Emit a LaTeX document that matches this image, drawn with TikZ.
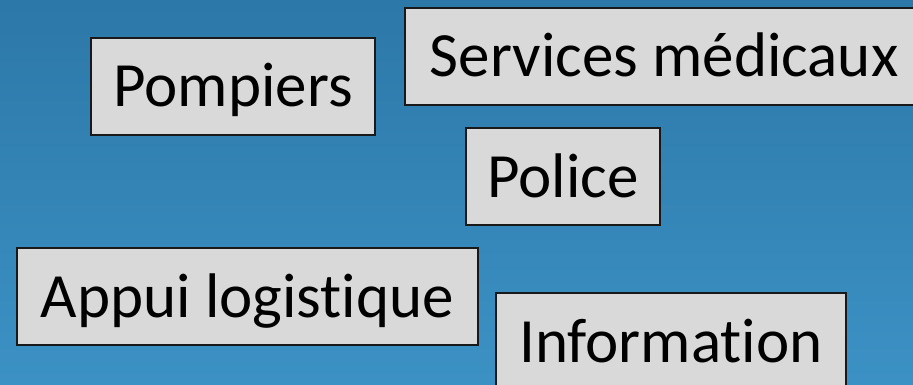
\documentclass[tikz,border=0pt]{standalone}
\usepackage{fontspec}
\setmainfont{Carlito}[Ligatures={NoCommon,NoDiscretionary}]
\usepackage{tikz}
\usetikzlibrary{calc,positioning}
\definecolor{bgtop}{RGB}{44,120,168}
\definecolor{bgbottom}{RGB}{60,145,196}
\definecolor{boxfill}{RGB}{217,217,217}
\tikzset{%
    service/.style={%
        rectangle, draw=black!90, line width=1.2pt, fill=boxfill, minimum height=97pt,
        text centered, font=\fontsize{63}{70}\selectfont, text height=41pt, text depth=0pt
    },
}
\begin{document}
\begin{tikzpicture}[x=1pt,y=-1pt]
      \useasboundingbox (0,0) rectangle (913,385);
      \clip (0,0) rectangle (913,385);
      \shade[top color=bgtop, bottom color=bgbottom] (0,0) rectangle (913,385);

      \node[service, minimum width=284pt] (pompiers) at (233,86.5) {Pompiers};
      \node[service, minimum width=518pt] (medical) at (664,56.5) {Services médicaux};
      \node[service, minimum width=194pt] (police) at (563,176.5) {Police};
      \node[service, minimum width=461pt] (logistique) at (247.5,296.5) {Appui logistique};
      \node[service, minimum width=350pt] (information) at (671,341.5) {Information};
    \end{tikzpicture}
\end{document}
